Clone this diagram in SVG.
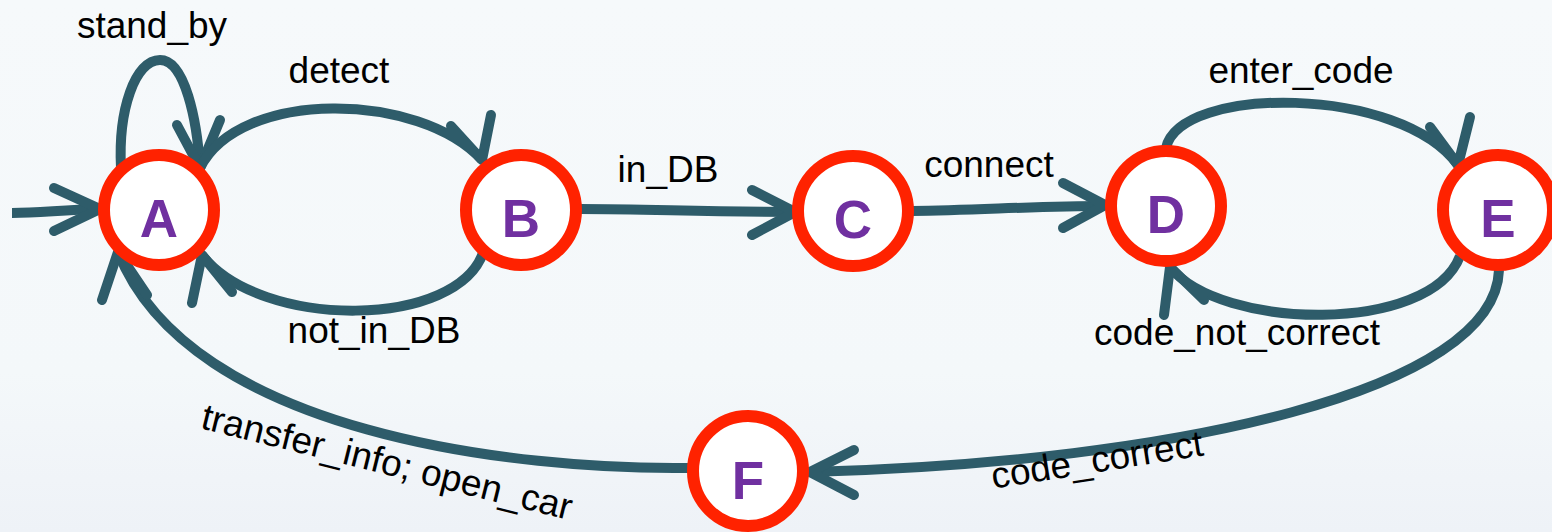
<svg xmlns="http://www.w3.org/2000/svg" width="1552" height="532" viewBox="0 0 1552 532">
<style>
.edge{fill:none;stroke:#2e5c6a;stroke-width:10;stroke-linecap:butt}
.ah{fill:none;stroke:#2e5c6a;stroke-width:10;stroke-linecap:round;stroke-linejoin:round}
.st{fill:#ffffff;stroke:#ff2200;stroke-width:12}
.nl{font-family:"Liberation Sans",Arial,sans-serif;font-weight:bold;font-size:53px;fill:#7030a0;text-anchor:middle}
.lbl{font-family:"Liberation Sans",Arial,sans-serif;font-size:37px;fill:#000000;text-anchor:middle}
</style>
<defs>
<linearGradient id="bg" x1="0" y1="0" x2="0" y2="1">
<stop offset="0" stop-color="#f6f9fb"/>
<stop offset="0.7" stop-color="#f4f8fa"/>
<stop offset="1" stop-color="#eef2f7"/>
</linearGradient>
</defs>
<rect x="0" y="0" width="1552" height="532" fill="url(#bg)"/>
<g id="connectors">
<path class="edge" d="M12,213 C40,213 60,210 100,209"/>
<path class="ah" d="M54,188 L100,209 L54,231"/>
<path class="edge" d="M121,168 C118,110 135,60 160,60 C185,60 197,120 200,168"/>
<path class="ah" d="M177,125 L200,168 L220,120"/>
<path class="edge" d="M200,168 C240,88 420,92 482,160"/>
<path class="ah" d="M451,126 L482,160 L491,115"/>
<path class="edge" d="M484,250 C460,330 260,330 202,255"/>
<path class="ah" d="M192,303 L202,255 L232,292"/>
<path class="edge" d="M580,209 C650,209 700,212 795,212"/>
<path class="ah" d="M752,190 L795,212 L752,235"/>
<path class="edge" d="M912,211 C980,210 1040,206 1105,206"/>
<path class="ah" d="M1063,183 L1105,205 L1063,228"/>
<path class="edge" d="M1166,148 C1180,85 1400,85 1458,165"/>
<path class="ah" d="M1430,127 L1458,165 L1470,117"/>
<path class="edge" d="M1460,256 C1430,335 1220,330 1170,267"/>
<path class="ah" d="M1164,315 L1170,267 L1204,300"/>
<path class="edge" d="M1499,270 C1495,390 1180,462 810,472"/>
<path class="ah" d="M854,450 L810,472 L854,495"/>
<path class="edge" d="M688,468 C520,470 190,435 118,252"/>
<path class="ah" d="M102,300 L118,252 L147,295"/>
</g>
<g id="labels">
<text class="lbl" x="152" y="38">stand_by</text>
<text class="lbl" x="339" y="83">detect</text>
<text class="lbl" x="668" y="182">in_DB</text>
<text class="lbl" x="989" y="177">connect</text>
<text class="lbl" x="1301" y="83">enter_code</text>
<text class="lbl" x="374" y="343">not_in_DB</text>
<text class="lbl" x="1237" y="345">code_not_correct</text>
<text class="lbl" x="1099" y="472" transform="rotate(-9 1099 472)">code_correct</text>
<text class="lbl" x="384" y="474" transform="rotate(14 384 474)">transfer_info; open_car</text>
</g>
<g id="node-A"><circle class="st" cx="159" cy="210" r="55"/><text class="nl" x="159" y="237">A</text></g>
<g id="node-B"><circle class="st" cx="521" cy="210" r="55"/><text class="nl" x="521" y="237">B</text></g>
<g id="node-C"><circle class="st" cx="853" cy="211" r="55"/><text class="nl" x="853" y="238">C</text></g>
<g id="node-D"><circle class="st" cx="1166" cy="206" r="55"/><text class="nl" x="1166" y="233">D</text></g>
<g id="node-E"><circle class="st" cx="1498" cy="210" r="55"/><text class="nl" x="1498" y="237">E</text></g>
<g id="node-F"><circle class="st" cx="748" cy="471" r="55"/><text class="nl" x="748" y="499">F</text></g>
</svg>
